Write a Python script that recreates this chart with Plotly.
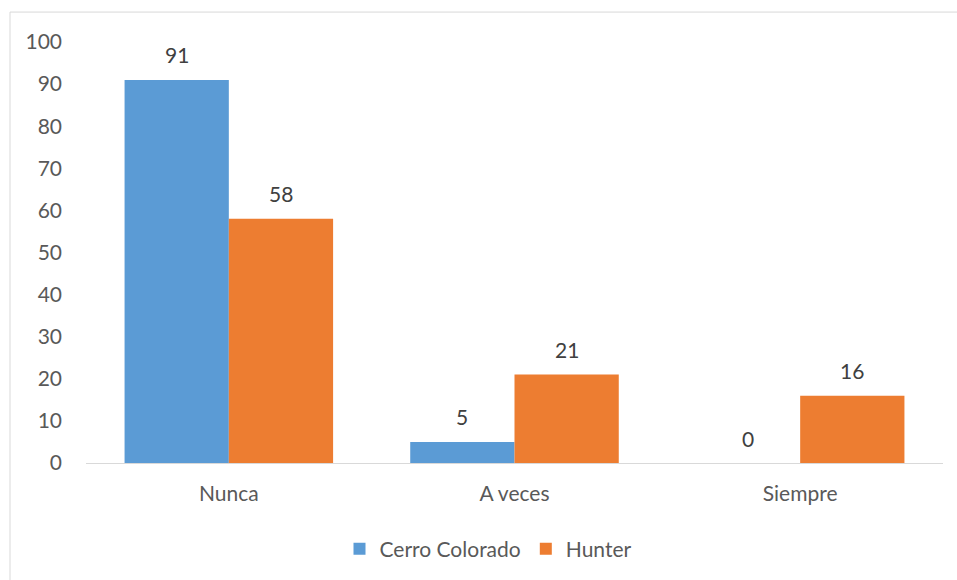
import plotly.graph_objects as go

categories = ["Nunca", "A veces", "Siempre"]
cerro_colorado = [91, 5, 0]
hunter = [58, 21, 16]
series_names = ["Cerro Colorado", "Hunter"]
y_ticks = [0, 10, 20, 30, 40, 50, 60, 70, 80, 90, 100]

BLUE = "#5B9BD5"
ORANGE = "#ED7D31"
TEXT = "#595959"
FONT = "Lato, 'Open Sans', sans-serif"
FS = 21

W, H = 957, 580
L, R, T, B = 86, 14, 42, 116
pw, ph = W - L - R, H - T - B

fig = go.Figure()
for name, vals, color in [(series_names[0], cerro_colorado, BLUE),
                          (series_names[1], hunter, ORANGE)]:
    fig.add_trace(go.Bar(
        x=categories, y=vals, name=name,
        marker=dict(color=color, line=dict(width=0)),
    ))

# value labels above each bar, offset to the bar's slot in the group
cat_w = pw / len(categories)
bargap = 0.27
bar_w = cat_w * (1 - bargap) / 2
annotations = []
for offset, vals in [(-bar_w / 2, cerro_colorado), (bar_w / 2, hunter)]:
    for c, v in zip(categories, vals):
        annotations.append(dict(
            x=c, y=v, xref="x", yref="y", text=str(v), showarrow=False,
            xshift=offset, yshift=25, yanchor="middle",
            font=dict(size=FS, color="#404040", family=FONT),
        ))

fig.update_layout(
    width=W, height=H,
    margin=dict(l=L, r=R, t=T, b=B),
    paper_bgcolor="white", plot_bgcolor="white",
    barmode="group", bargap=bargap, bargroupgap=0,
    font=dict(family=FONT, size=FS, color=TEXT),
    showlegend=True,
    legend=dict(orientation="h", x=(488 - L) / pw, xanchor="center",
                y=-(549 - (H - B)) / ph, yanchor="middle",
                font=dict(size=FS, color=TEXT), traceorder="normal"),
    xaxis=dict(showgrid=False, showline=True, linecolor="#d9d9d9", linewidth=1,
               ticks="", tickfont=dict(size=FS, color=TEXT), ticklabelstandoff=12),
    yaxis=dict(range=[0, 100], tickvals=y_ticks, showgrid=False, zeroline=False,
               showline=False, ticks="", tickfont=dict(size=FS, color=TEXT),
               ticklabelstandoff=23),
    annotations=annotations,
    shapes=[dict(type="rect", xref="paper", yref="paper",
                 x0=(10 - L) / pw, x1=(W + 20 - L) / pw,
                 y0=-(H + 20 - T - ph) / ph, y1=1 + (T - 12) / ph,
                 line=dict(color="#d9d9d9", width=1), fillcolor="rgba(0,0,0,0)",
                 layer="below")],
)

fig.write_html("out.html")
